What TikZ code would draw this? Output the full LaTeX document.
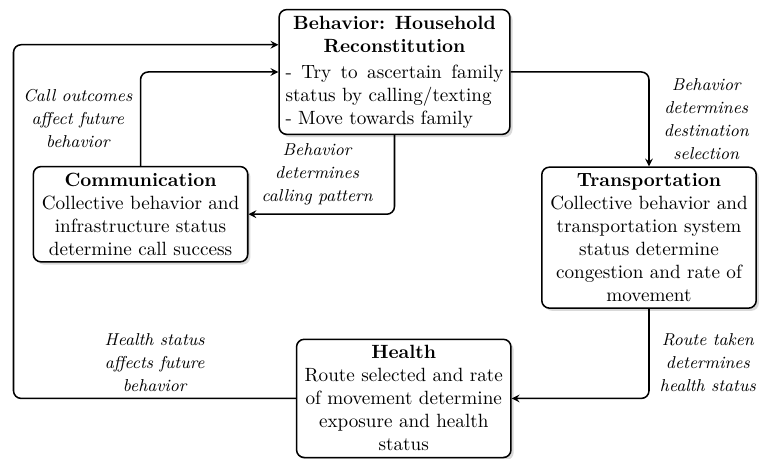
\documentclass[tikz,border=0pt]{standalone}
\usetikzlibrary{shadows}
\setlength{\parindent}{0pt}

\tikzset{
    box/.style={draw, thick, rectangle, rounded corners, fill=white, text width=3.7cm, align=flush center,
        drop shadow={shadow xshift=1.4pt, shadow yshift=-1.4pt, opacity=0.3}},
    conn/.style={-stealth, thick, rounded corners},
    note/.style={text width=2.2cm, align=flush center, font=\small\itshape\setlength{\baselineskip}{12pt}}
}

\begin{document}
\begin{tikzpicture}[node distance=3cm]
    \useasboundingbox (-7.239,1.321) rectangle (6.707,-7.101);

    % Nodos principales
    \node (behavior) [box, text width=4cm, align=justify]
    {{\centering\textbf{Behavior: Household Reconstitution}\par}\vspace{1.5pt}
    - Try to ascertain family status by calling/texting\\ - Move towards family};

    \node (comm) [below of=behavior, xshift=-4.66cm, yshift=0.39cm, box]
    {\textbf{Communication} \\ Collective behavior and infrastructure status determine call success};

    \node (trans) [below of=behavior, xshift=4.67cm, yshift=-0.04cm, box]
    {\textbf{Transportation} \\ Collective behavior and transportation system status determine congestion and rate of movement};

    \node (health) [below of=trans, xshift=-4.5cm, yshift=0.05cm, box]
    {\textbf{Health} \\ Route selected and rate of movement determine exposure and health status};

    \coordinate (leftturn) at ([xshift=-0.35cm]comm.west |- health.west);

    % Flechas de conexión
    \draw[conn] (behavior.east) -| node[pos=0.75, right, xshift=-0.18cm, note] {Behavior determines destination selection} (trans.north);
    \draw[conn] (trans.south) |- node[pos=0.3, right, xshift=-0.15cm, note] {Route taken determines health status} (health.east);
    \draw[conn] (health.west) -- node[above, note] {Health status affects future behavior} (leftturn)
        |- ([yshift=0.5cm]behavior.west);
    \draw[conn] (comm.north) |- node[pos=0.25, left, xshift=0.08cm, note] {Call outcomes affect future behavior} (behavior.west);
    \draw[conn] (behavior.south) |- node[pos=0.25, left, xshift=-0.19cm, note] {Behavior determines calling pattern} (comm.east);
\end{tikzpicture}
\end{document}
